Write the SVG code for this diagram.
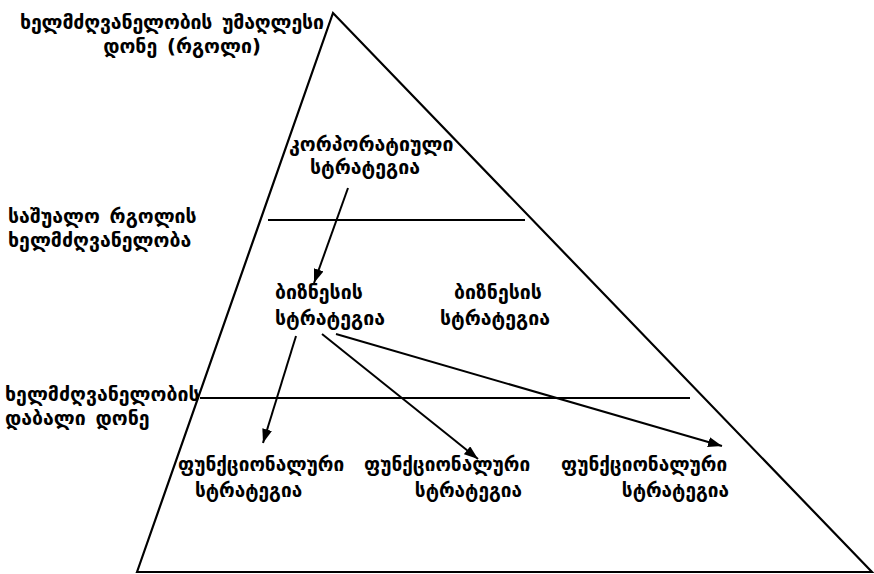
<svg xmlns="http://www.w3.org/2000/svg" width="874" height="574" viewBox="0 0 874 574">
<style>
text{font-family:"DejaVu Sans",sans-serif;font-size:19.5px;font-weight:bold;word-spacing:3px;fill:#000}
.fn{font-size:19px}
.ln{stroke:#000;stroke-width:2.2;fill:none}
.ar{stroke:#000;stroke-width:2;fill:none;marker-end:url(#ah)}
</style>
<defs>
<marker id="ah" viewBox="0 0 14 10" refX="14" refY="5" markerWidth="14" markerHeight="10" markerUnits="userSpaceOnUse" orient="auto">
<path d="M0,0 L14,5 L0,10 Z" fill="#000"/>
</marker>
</defs>
<rect width="874" height="574" fill="#fff"/>
<g id="pyramid">
<path class="ln" d="M137,572 L333,13 L872,572 Z"/>
<line class="ln" x1="268" y1="220" x2="525" y2="220"/>
<line class="ln" x1="200" y1="398" x2="690" y2="398"/>
</g>
<g id="label-top">
<text x="20" y="29" textLength="304">ხელმძღვანელობის უმაღლესი</text>
<text x="182" y="53" text-anchor="middle">დონე (რგოლი)</text>
</g>
<g id="label-middle">
<text x="8" y="223">საშუალო რგოლის</text>
<text x="8" y="247">ხელმძღვანელობა</text>
</g>
<g id="label-low">
<text x="5" y="401">ხელმძღვანელობის</text>
<text x="5" y="425">დაბალი დონე</text>
</g>
<g id="corporate">
<text x="289" y="151">კორპორატიული</text>
<text x="365" y="174" text-anchor="middle">სტრატეგია</text>
</g>
<g id="business-1">
<text x="275" y="299">ბიზნესის</text>
<text x="275" y="325">სტრატეგია</text>
</g>
<g id="business-2">
<text x="498" y="299" text-anchor="middle">ბიზნესის</text>
<text x="495" y="325" text-anchor="middle">სტრატეგია</text>
</g>
<g id="functional-1">
<text class="fn" x="178" y="471">ფუნქციონალური</text>
<text class="fn" x="195" y="497">სტრატეგია</text>
</g>
<g id="functional-2">
<text class="fn" x="364" y="471">ფუნქციონალური</text>
<text class="fn" x="522" y="497" text-anchor="end">სტრატეგია</text>
</g>
<g id="functional-3">
<text class="fn" x="561" y="471">ფუნქციონალური</text>
<text class="fn" x="729" y="497" text-anchor="end">სტრატეგია</text>
</g>
<g id="connectors">
<line class="ar" x1="348" y1="188" x2="314" y2="283"/>
<line class="ar" x1="296" y1="336" x2="263" y2="443"/>
<line class="ar" x1="322" y1="334" x2="478" y2="459"/>
<line class="ar" x1="336" y1="334" x2="722" y2="446"/>
</g>
</svg>
